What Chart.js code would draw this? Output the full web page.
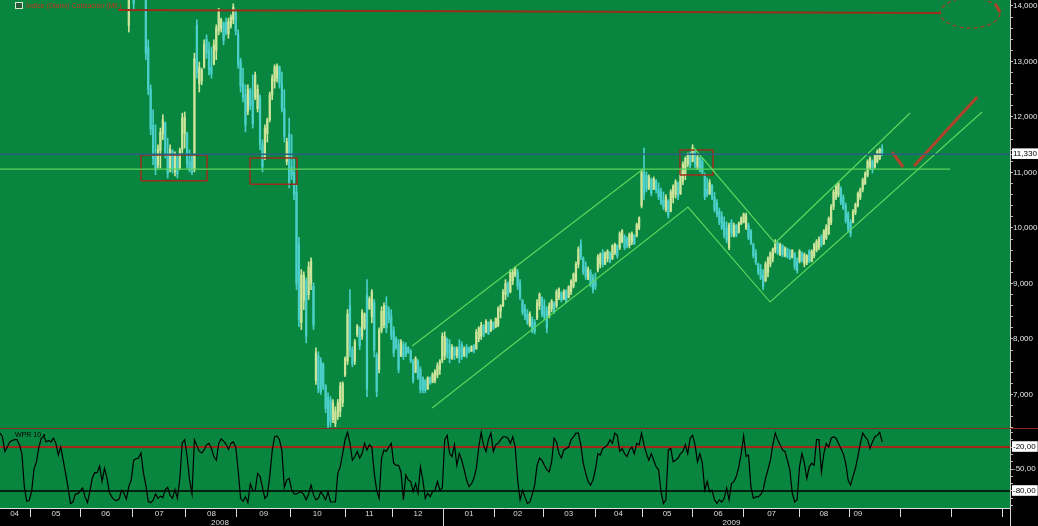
<!DOCTYPE html>
<html>
<head>
<meta charset="utf-8">
<title>Índice diario con WPR 10</title>
<script src="https://cdn.jsdelivr.net/npm/chart.js"></script>
<style>
    body {
        margin: 0;
        background: #000;
    }
    #wrap {
        position: relative;
        width: 1038px;
        height: 526px;
        background: #000;
        overflow: hidden;
        font-family: "Liberation Sans", Arial, sans-serif;
    }
    #pricePane {
        position: absolute;
        left: 0;
        top: 0;
        width: 1038px;
        height: 428px;
    }
    #paneSep {
        position: absolute;
        left: 0;
        top: 428px;
        width: 1038px;
        height: 1px;
        background: #8c2a1a;
    }
    #wprPane {
        position: absolute;
        left: 0;
        top: 429px;
        width: 1038px;
        height: 97px;
    }
    .tag {
        position: absolute;
        font-size: 7px;
        line-height: 8px;
        white-space: nowrap;
    }
    #priceTag {
        left: 15px;
        top: 2px;
        color: #c0381e;
    }
    #priceTag span {
        display: inline-block;
        width: 6px;
        height: 5px;
        border: 1px solid #d8e8d0;
        background: #2a5a3a;
        margin-right: 3px;
        vertical-align: -1px;
    }
    #wprTag {
        left: 15px;
        top: 431px;
        color: #000;
    }
</style>
</head>
<body>
<div id="wrap">
    <div id="pricePane"><canvas id="priceChart"></canvas></div>
    <div id="paneSep"></div>
    <div id="wprPane"><canvas id="wprChart"></canvas></div>
    <div class="tag" id="priceTag"><span></span>Índice (Diario) Cotización (Mil.)</div>
    <div class="tag" id="wprTag">WPR 10 •</div>
</div>

<script>
    // bar index = trading day counted from early April 2008
    const X_MAX = 415.6;
    const priceStart = 53;

    const opens = [
        13650, 14150, 14300, 14150, 14400, 14300, 14400, 14150, 13250, 12500,
        11850, 11300, 11130, 11400, 11700, 11900, 11350, 11050, 11380, 11020,
        11280, 11080, 11420, 11700, 11700, 11200, 11300, 11050, 13650, 12600,
        12650, 12900, 13400, 13200, 12900, 12950, 13200, 13550, 13600, 13700,
        13700, 13500, 13650, 13750, 13900, 13500, 13000, 12600, 12400, 12100,
        12480, 12300, 12350, 12150, 12350, 11500, 11300, 11700, 11950, 12400,
        12650, 12700, 12900, 12600, 12150, 11200, 11700, 11100, 11000, 10650,
        9700, 8300, 8700, 9050, 8800, 9000, 8950, 7250, 7700, 7600,
        7550, 7150, 6950, 6900, 6550, 6480, 6600, 6700, 6850, 7350,
        7600, 8600, 7800, 7600, 8080, 8200, 8050, 8200, 8800, 8550,
        8400, 8650, 7700, 7450, 8150, 8250, 8600, 8500, 8400, 8150,
        8000, 7900, 7700, 7900, 7850, 7850, 7780, 7600, 7400, 7600,
        7450, 7300, 7250, 7100, 7300, 7220, 7250, 7350, 7450, 7620,
        7700, 8000, 7900, 7650, 7850, 7700, 7850, 7900, 7700, 7850,
        7830, 7780, 7880, 7830, 8000, 8050, 8240, 8120, 8300, 8150,
        8300, 8220, 8250, 8500, 8600, 8800, 9000, 8850, 9050, 9150,
        9200, 9000, 8700, 8550, 8450, 8250, 8350, 8300, 8380, 8600,
        8750, 8600, 8500, 8400, 8550, 8650, 8600, 8750, 8830, 8720,
        8870, 8750, 8850, 8950, 9050, 9350, 9700, 9450, 9300, 9080,
        9200, 9100, 9050, 9250, 9350, 9550, 9350, 9450, 9550, 9450,
        9550, 9680, 9650, 9750, 9850, 9800, 9680, 9750, 9870, 9850,
        10000, 10400, 11000, 10950, 10720, 10880, 10700, 10850, 10700, 10650,
        10500, 10330, 10480, 10300, 10550, 10600, 10800, 10620, 10850, 10950,
        11150, 11330, 11200, 11400, 11100, 11250, 11200, 10950, 10700, 10620,
        10760, 10550, 10450, 10300, 10200, 10100, 10000, 9650, 10100, 9850,
        10050, 9920, 10080, 10100, 10000, 10050, 9950, 9700, 9550, 9350,
        9250, 9150, 9050, 9200, 9350, 9450, 9600, 9730, 9520, 9680,
        9500, 9620, 9500, 9470, 9550, 9400, 9400, 9550, 9350, 9380,
        9580, 9400, 9500, 9600, 9650, 9850, 9720, 9820, 9900, 10100,
        10380, 10550, 10600, 10700, 10550, 10400, 10250, 10100, 10100, 10280,
        10400, 10550, 10700, 10800, 10950, 11100, 11200, 11100, 11200, 11250,
        11420
    ];
    const highs = [
        14200, 14400, 14320, 14420, 14480, 14450, 14420, 14250, 13390, 12580,
        12130, 11860, 11500, 11800, 12040, 11910, 11620, 11500, 11410, 11370,
        11320, 11440, 12070, 12090, 11730, 11410, 11320, 13150, 13750, 12990,
        12880, 13390, 13480, 13350, 13260, 13390, 13660, 13960, 13780, 13710,
        13780, 13780, 13840, 14040, 13930, 13570, 13060, 12880, 12580, 12580,
        12520, 12760, 12810, 12580, 12400, 11590, 11860, 11980, 12450, 12760,
        12940, 12960, 12920, 12810, 12490, 11620, 11980, 11680, 11260, 10780,
        9830, 9250, 9210, 9100, 9390, 9460, 9010, 7840, 7770, 7660,
        7570, 7180, 7030, 6960, 6910, 6780, 6910, 7220, 7230, 7680,
        8530, 8890, 7860, 7990, 8260, 8220, 8530, 8470, 9070, 8760,
        8890, 8710, 7750, 8200, 8580, 8650, 8760, 8580, 8530, 8220,
        8040, 7990, 7990, 7950, 7930, 7860, 7810, 7630, 7680, 7630,
        7500, 7320, 7270, 7320, 7320, 7390, 7450, 7570, 7630, 8110,
        8130, 8020, 7990, 7900, 7860, 7860, 7990, 7950, 7860, 7900,
        7860, 7880, 7900, 8170, 8220, 8300, 8260, 8350, 8310, 8350,
        8310, 8380, 8580, 8620, 8890, 9070, 9030, 9250, 9250, 9300,
        9250, 9070, 8710, 8620, 8530, 8490, 8400, 8350, 8710, 8830,
        8760, 8710, 8580, 8650, 8710, 8670, 8890, 8920, 8850, 8890,
        8890, 8960, 9070, 9190, 9390, 9660, 9790, 9480, 9390, 9300,
        9250, 9160, 9190, 9520, 9550, 9610, 9570, 9610, 9570, 9700,
        9730, 9700, 9930, 9970, 9880, 9840, 9910, 9930, 9880, 10090,
        10200, 11050, 11440, 11010, 10960, 10900, 10920, 10870, 10810, 10720,
        10650, 10600, 10510, 10690, 10780, 10870, 10830, 11050, 11190, 11280,
        11350, 11370, 11500, 11410, 11320, 11280, 11260, 10990, 10900, 10870,
        10780, 10640, 10510, 10360, 10290, 10200, 10110, 10090, 10150, 10090,
        10060, 10110, 10200, 10270, 10270, 10090, 9970, 9730, 9610, 9370,
        9340, 9250, 9390, 9480, 9570, 9640, 9790, 9750, 9730, 9700,
        9660, 9640, 9610, 9610, 9550, 9460, 9610, 9570, 9550, 9520,
        9610, 9610, 9730, 9790, 9840, 9880, 9970, 10060, 10200, 10420,
        10690, 10780, 10830, 10740, 10600, 10450, 10290, 10150, 10330, 10450,
        10650, 10720, 10900, 11010, 11230, 11280, 11230, 11320, 11410, 11440,
        11500
    ];
    const lows = [
        13530, 14130, 13950, 14130, 14200, 14150, 14120, 13030, 12400, 11680,
        11140, 10960, 11080, 11080, 11590, 11260, 10900, 11010, 10990, 10940,
        10900, 11050, 11350, 11440, 11080, 11010, 10960, 11010, 12700, 12450,
        12580, 12880, 13060, 12760, 12700, 12940, 13030, 13480, 13530, 13300,
        13480, 13420, 13600, 13680, 13480, 12880, 12450, 12270, 11730, 12040,
        12130, 11800, 12310, 12090, 11410, 11010, 11230, 11550, 11910, 12310,
        12520, 12630, 12520, 12090, 11550, 11140, 10720, 10870, 10510, 8890,
        8220, 8170, 8530, 7930, 8710, 8890, 8170, 7180, 7030, 7000,
        7090, 6670, 6370, 6420, 6490, 6420, 6550, 6600, 6780, 7320,
        7540, 7680, 7500, 7540, 8040, 7810, 7990, 8170, 6960, 8530,
        8290, 7680, 6960, 7390, 8110, 8200, 8110, 8290, 7990, 7680,
        7810, 7390, 7680, 7630, 7680, 7740, 7570, 7210, 7390, 7270,
        7030, 7030, 7030, 7090, 7180, 7210, 7210, 7300, 7360, 7570,
        7630, 7660, 7570, 7630, 7630, 7660, 7570, 7630, 7680, 7660,
        7750, 7770, 7750, 7810, 7950, 7990, 8040, 8110, 8080, 8130,
        8170, 8200, 8220, 8380, 8580, 8710, 8760, 8830, 8980, 9120,
        8890, 8710, 8440, 8350, 8260, 8220, 8110, 8090, 8350, 8530,
        8400, 8350, 8110, 8380, 8490, 8460, 8560, 8710, 8670, 8710,
        8650, 8740, 8800, 8920, 9030, 9280, 9430, 9160, 9070, 9070,
        8940, 8830, 8890, 9210, 9280, 9300, 9340, 9390, 9370, 9430,
        9520, 9460, 9610, 9730, 9610, 9640, 9640, 9700, 9700, 9840,
        9970, 10360, 10510, 10650, 10690, 10580, 10690, 10630, 10510, 10420,
        10330, 10290, 10180, 10290, 10450, 10540, 10510, 10600, 10780, 10870,
        11100, 11080, 11190, 11080, 11050, 11010, 10960, 10510, 10560, 10600,
        10510, 10290, 10200, 10060, 9970, 9820, 9730, 9610, 9840, 9840,
        9840, 9910, 10060, 10090, 9970, 9790, 9700, 9460, 9340, 9160,
        9070, 8890, 9030, 9120, 9300, 9390, 9550, 9520, 9500, 9480,
        9480, 9460, 9430, 9460, 9250, 9190, 9370, 9390, 9300, 9340,
        9370, 9390, 9460, 9570, 9610, 9660, 9700, 9790, 9880, 10060,
        10330, 10510, 10560, 10420, 10330, 10090, 9930, 9840, 10090, 10240,
        10380, 10510, 10650, 10780, 10920, 11050, 10990, 11080, 11170, 11230,
        11300
    ];
    const closes = [
        14100, 14350, 14050, 14380, 14250, 14400, 14180, 13150, 12500, 11780,
        11250, 11050, 11420, 11720, 11950, 11350, 10980, 11420, 11060, 11300,
        10980, 11400, 11980, 12000, 11150, 11050, 11000, 13050, 12800, 12900,
        12850, 13300, 13150, 12850, 12780, 13300, 13600, 13900, 13750, 13380,
        13520, 13720, 13800, 13980, 13550, 12950, 12550, 12350, 11850, 12500,
        12200, 11880, 12750, 12500, 11500, 11100, 11800, 11950, 12400, 12700,
        12900, 12920, 12600, 12150, 11650, 11550, 10800, 10950, 10600, 9000,
        8350, 9150, 9150, 8050, 9300, 9400, 8250, 7750, 7100, 7050,
        7150, 6750, 6450, 6500, 6850, 6700, 6850, 7150, 7200, 7650,
        8450, 7800, 7550, 7950, 8230, 7880, 8480, 8450, 7100, 8720,
        8850, 7800, 7050, 8150, 8500, 8600, 8200, 8350, 8050, 7750,
        7850, 7450, 7950, 7680, 7720, 7760, 7600, 7250, 7650, 7300,
        7080, 7080, 7070, 7300, 7200, 7370, 7420, 7520, 7600, 8050,
        8050, 7750, 7650, 7850, 7700, 7820, 7650, 7680, 7830, 7700,
        7770, 7860, 7780, 8120, 8200, 8250, 8080, 8320, 8100, 8330,
        8180, 8370, 8550, 8600, 8850, 9000, 8800, 9200, 9200, 9280,
        8950, 8750, 8480, 8400, 8300, 8450, 8150, 8130, 8650, 8800,
        8450, 8400, 8200, 8600, 8680, 8480, 8850, 8900, 8700, 8860,
        8680, 8940, 9050, 9170, 9350, 9620, 9480, 9200, 9120, 9250,
        8990, 8900, 8950, 9480, 9520, 9350, 9550, 9580, 9400, 9680,
        9700, 9500, 9900, 9950, 9650, 9680, 9880, 9900, 9720, 10060,
        10180, 11000, 10600, 10700, 10920, 10620, 10880, 10680, 10560, 10450,
        10380, 10560, 10230, 10650, 10750, 10830, 10560, 11000, 11150, 11250,
        11320, 11120, 11450, 11150, 11280, 11050, 11000, 10560, 10600, 10820,
        10550, 10330, 10250, 10100, 10000, 9870, 9780, 10050, 9900, 10050,
        9870, 10080, 10180, 10250, 10220, 9830, 9730, 9500, 9380, 9200,
        9100, 8940, 9350, 9450, 9550, 9620, 9750, 9550, 9700, 9520,
        9640, 9480, 9450, 9600, 9300, 9230, 9580, 9420, 9520, 9500,
        9400, 9580, 9700, 9760, 9800, 9700, 9950, 10020, 10170, 10380,
        10650, 10750, 10800, 10470, 10360, 10130, 9980, 9900, 10300, 10420,
        10620, 10700, 10870, 10980, 11200, 11250, 11050, 11300, 11380, 11420,
        11330
    ];

    // Williams %R (10), one value per trading day from bar 0
    const wpr = [
        -1, -6, -26, -20, -13, -11, -10, -10, -17, -29,
        -74, -94, -93, -81, -50, -40, -20, -8, -5, -13,
        -11, -13, -8, -15, -31, -20, -38, -56, -75, -97,
        -95, -84, -84, -80, -76, -88, -96, -80, -62, -55,
        -55, -46, -67, -49, -62, -82, -88, -92, -93, -91,
        -79, -83, -91, -74, -65, -38, -36, -35, -28, -55,
        -72, -94, -96, -93, -84, -90, -87, -89, -78, -75,
        -86, -90, -78, -90, -63, -14, -10, -33, -65, -84,
        -10, -18, -26, -28, -24, -17, -15, -22, -33, -38,
        -15, -9, -12, -16, -23, -15, -13, -20, -52, -90,
        -94, -88, -96, -70, -79, -80, -56, -60, -75, -90,
        -86, -60, -25, -6, -5, -10, -25, -75, -65, -63,
        -78, -84, -84, -82, -81, -85, -92, -84, -72, -85,
        -92, -90, -81, -86, -92, -81, -95, -95, -95, -56,
        -47, -29, -10, 0, -15, -38, -33, -26, -35, -29,
        -15, -24, -17, -20, -56, -79, -90, -35, -24, -26,
        -20, -15, -42, -45, -45, -54, -92, -58, -65, -67,
        -81, -70, -83, -47, -65, -90, -83, -88, -81, -79,
        -67, -79, -76, -10, -4, -29, -33, -17, -45, -29,
        -38, -51, -65, -74, -70, -63, -49, -20, 0, -18,
        -26, -10, -1, -26, -17, -15, -10, -6, -6, -8,
        -15, -6, -20, -65, -92, -79, -88, -97, -95, -85,
        -72, -45, -35, -38, -45, -51, -54, -40, -8, -13,
        -29, -35, -24, -22, -20, -10, -6, -1, -1, -17,
        -42, -56, -67, -72, -65, -51, -29, -31, -22, -20,
        -17, -10, -15, -1, -4, -26, -22, -29, -33, -24,
        -20, -29, -15, -17, -1, -17, -29, -38, -29, -38,
        -47, -51, -81, -97, -92, -24, -22, -40, -38, -35,
        -29, -26, -17, -29, -8, -4, -17, -40, -29, -42,
        -79, -67, -81, -79, -92, -97, -92, -95, -90, -76,
        -92, -70, -67, -60, -47, -29, -5, -33, -31, -74,
        -90, -88, -88, -85, -79, -63, -51, -38, -17, -1,
        -10, -17, -24, -26, -38, -51, -83, -95, -92, -47,
        -29, -42, -63, -47, -42, -45, -10, -10, -54, -29,
        -15, -20, -8, -6, -8, -15, -22, -29, -42, -65,
        -72, -60, -49, -33, -15, -1, -6, -10, -22, -13,
        -6, -4, 0, -13
    ];

    // axis labels
    const monthLabels = ['04', '05', '06', '07', '08', '09', '10', '11', '12',
                         '01', '02', '03', '04', '05', '06', '07', '08', '09'];
    const monthLabelAt = [6, 23, 43.5, 65.5, 87, 108.5, 130.5, 152, 172,
                          193, 213, 234, 254.5, 274.5, 295.5, 317.5, 339, 353];
    const monthBounds = [12.5, 33, 54.5, 76.5, 97.5, 119.5, 142, 161.5, 182.5, 203.5,
                         223.5, 245, 264.5, 285, 306, 329, 349.5, 370.5, 391.5, 412.5];
    const yearLabels = ['2008', '2009'];
    const yearLabelAt = [90.5, 301];
    const yearBounds = [182.5];

    const lastPrice = 11330;
    const supportLevel = 11060;
    const wprLevels = [-20, -50, -80];

    // drawn studies (bar index, price)
    const topLine = [[48.6, 13930], [386.8, 13875]];
    const boxes = [[58, 85.2, 10850, 11315], [102.9, 122.2, 10790, 11260], [279.8, 293.4, 10955, 11405]];
    const channelUp = [[169.5, 7870], [264.6, 11063]];
    const channelLow = [[177.8, 6756], [283.1, 10378], [316.9, 8666], [404.1, 12090]];
    const channelHigh = [[285.2, 11459], [318.9, 9729], [374.5, 12072]];
    const redStrokes = [
        [[367.1, 11369], [371.6, 11099]],
        [[376.1, 11117], [402.1, 12360]],
        [[409.5, 14040], [411.5, 13890]]
    ];
    const targetEllipse = { cx: 399.2, cy: 13874, rx: 12.3, ry: 270 };

    const GREEN = '#08853f';
    const UP = '#cce59a';
    const DOWN = '#4ccfca';
    const LINE_GREEN = '#5cd65c';
    const DARK_RED = '#9a2e1c';
    const FONT = { family: '"Liberation Sans", Arial, sans-serif', size: 8 };

    const areaFill = {
        id: 'areaFill',
        beforeDraw(chart) {
            const { ctx, chartArea: a } = chart;
            ctx.save();
            ctx.fillStyle = GREEN;
            ctx.fillRect(a.left, a.top, a.right - a.left, a.bottom - a.top);
            ctx.restore();
        }
    };

    // right-hand axes: fixed width, no extra room above/below the plot
    function fitRightAxis(s) {
        s.width = 28;
        s.paddingTop = 0;
        s.paddingBottom = 0;
    }

    function pts(list) {
        return list.map(p => ({ x: p[0], y: p[1] }));
    }

    function lineSet(points, color, width, dash) {
        return {
            type: 'line',
            data: points,
            borderColor: color,
            borderWidth: width,
            borderDash: dash || [],
            pointRadius: 0,
            pointHoverRadius: 0,
            fill: false,
            tension: 0,
            order: 0
        };
    }

    // ---------- price pane ----------
    const barX = opens.map((o, i) => priceStart + i);
    const barColors = opens.map((o, i) => closes[i] >= o ? UP : DOWN);

    const priceSets = [
        {
            type: 'bar',
            data: barX.map((x, i) => ({ x: x, y: [lows[i], highs[i]] })),
            backgroundColor: barColors,
            barThickness: 1,
            grouped: false,
            order: 6
        },
        {
            type: 'bar',
            data: barX.map((x, i) => ({ x: x, y: [Math.min(opens[i], closes[i]), Math.max(opens[i], closes[i])] })),
            backgroundColor: barColors,
            barThickness: 1.6,
            grouped: false,
            order: 5
        },
        lineSet(pts([[0, lastPrice], [X_MAX, lastPrice]]), '#2b5f80', 1.5),
        lineSet(pts([[0, supportLevel], [391, supportLevel]]), LINE_GREEN, 1.2),
        lineSet(pts(topLine), DARK_RED, 2),
        lineSet(pts(channelUp), LINE_GREEN, 1.2),
        lineSet(pts(channelLow), LINE_GREEN, 1.2),
        lineSet(pts(channelHigh), LINE_GREEN, 1.2)
    ];
    boxes.forEach(b => {
        priceSets.push(lineSet(pts([[b[0], b[2]], [b[1], b[2]], [b[1], b[3]], [b[0], b[3]], [b[0], b[2]]]), DARK_RED, 1.5));
    });
    redStrokes.forEach(s => priceSets.push(lineSet(pts(s), '#b0432a', 3)));
    const ell = [];
    for (let k = 0; k <= 60; k++) {
        const t = k / 60 * Math.PI * 2;
        ell.push({ x: targetEllipse.cx + targetEllipse.rx * Math.cos(t), y: targetEllipse.cy + targetEllipse.ry * Math.sin(t) });
    }
    priceSets.push(lineSet(ell, '#a83a24', 1.2, [4, 3]));

    const priceTickValues = [6396, 14108, lastPrice];
    for (let v = 6400; v <= 14000; v += 200) priceTickValues.push(v);
    priceTickValues.sort((a, b) => a - b);

    new Chart(document.getElementById('priceChart'), {
        type: 'bar',
        data: { datasets: priceSets },
        options: {
            responsive: true,
            maintainAspectRatio: false,
            animation: false,
            events: [],
            layout: { padding: 0, autoPadding: false },
            plugins: { legend: { display: false }, tooltip: { enabled: false } },
            scales: {
                x: {
                    type: 'linear',
                    min: 0,
                    max: X_MAX,
                    offset: false,
                    display: false
                },
                y: {
                    position: 'right',
                    min: 6396,
                    max: 14108,
                    afterBuildTicks: s => { s.ticks = priceTickValues.map(v => ({ value: v })); },
                    afterFit: fitRightAxis,
                    grid: { drawOnChartArea: false, drawTicks: true, tickLength: 3, color: '#b8b8b8' },
                    border: { display: true, color: '#cfcfcf' },
                    ticks: {
                        autoSkip: false,
                        padding: 0,
                        font: FONT,
                        color: c => c.tick && c.tick.value === lastPrice ? '#000' : '#e4e4e4',
                        showLabelBackdrop: c => !!(c.tick && c.tick.value === lastPrice),
                        backdropColor: '#fff',
                        backdropPadding: { top: 1, bottom: 0, left: 1, right: 2 },
                        callback: v => {
                            if (v === 6396 || v === 14108) return null;
                            if (v === lastPrice) return v.toLocaleString('en-US');
                            return v % 1000 === 0 ? v.toLocaleString('en-US') : '';
                        }
                    }
                }
            }
        },
        plugins: [areaFill]
    });

    // ---------- WPR pane ----------
    const monthTicks = [0, X_MAX].concat(monthBounds, monthLabelAt).sort((a, b) => a - b);
    const yearTicks = [0, X_MAX].concat(yearBounds, yearLabelAt).sort((a, b) => a - b);
    const wprTicks = [-103.2, 4.6];
    for (let v = -100; v <= 0; v += 10) wprTicks.push(v);
    wprTicks.sort((a, b) => a - b);

    new Chart(document.getElementById('wprChart'), {
        type: 'line',
        data: {
            datasets: [
                {
                    data: wpr.map((v, i) => ({ x: i, y: v })),
                    borderColor: '#000',
                    borderWidth: 1.2,
                    pointRadius: 0,
                    pointHoverRadius: 0,
                    tension: 0,
                    order: 0
                },
                lineSet(pts([[0, wprLevels[0]], [X_MAX, wprLevels[0]]]), '#a3261a', 2),
                lineSet(pts([[0, wprLevels[2]], [X_MAX, wprLevels[2]]]), '#000', 1.5)
            ]
        },
        options: {
            responsive: true,
            maintainAspectRatio: false,
            animation: false,
            events: [],
            layout: { padding: 0, autoPadding: false },
            plugins: { legend: { display: false }, tooltip: { enabled: false } },
            scales: {
                x: {
                    type: 'linear',
                    min: 0,
                    max: X_MAX,
                    offset: false,
                    position: 'bottom',
                    weight: 0,
                    afterBuildTicks: s => { s.ticks = monthTicks.map(v => ({ value: v })); },
                    afterFit: s => { s.height = 9; },
                    grid: {
                        drawOnChartArea: false,
                        drawTicks: true,
                        tickLength: 9,
                        color: c => (c.tick && (monthBounds.includes(c.tick.value) || c.tick.value === X_MAX)) ? '#d8d8d8' : 'rgba(0,0,0,0)'
                    },
                    border: { display: true, color: '#e0e0e0', width: 1 },
                    ticks: {
                        autoSkip: false,
                        maxRotation: 0,
                        padding: -8,
                        font: FONT,
                        color: '#dcdcdc',
                        callback: v => {
                            const k = monthLabelAt.indexOf(v);
                            return k >= 0 ? monthLabels[k] : '';
                        }
                    }
                },
                x2: {
                    type: 'linear',
                    min: 0,
                    max: X_MAX,
                    offset: false,
                    position: 'bottom',
                    weight: 1,
                    afterBuildTicks: s => { s.ticks = yearTicks.map(v => ({ value: v })); },
                    afterFit: s => { s.height = 9; },
                    grid: {
                        drawOnChartArea: false,
                        drawTicks: true,
                        tickLength: 9,
                        color: c => (c.tick && (yearBounds.includes(c.tick.value) || c.tick.value === X_MAX)) ? '#d8d8d8' : 'rgba(0,0,0,0)'
                    },
                    border: { display: false },
                    ticks: {
                        autoSkip: false,
                        maxRotation: 0,
                        padding: -8,
                        font: FONT,
                        color: '#dcdcdc',
                        callback: v => {
                            const k = yearLabelAt.indexOf(v);
                            return k >= 0 ? yearLabels[k] : '';
                        }
                    }
                },
                y: {
                    position: 'right',
                    min: -103.2,
                    max: 4.6,
                    afterBuildTicks: s => { s.ticks = wprTicks.map(v => ({ value: v })); },
                    afterFit: fitRightAxis,
                    grid: { drawOnChartArea: false, drawTicks: true, tickLength: 3, color: '#b8b8b8' },
                    border: { display: true, color: '#cfcfcf' },
                    ticks: {
                        autoSkip: false,
                        padding: 0,
                        font: FONT,
                        color: c => (c.tick && (c.tick.value === -20 || c.tick.value === -80)) ? '#000' : '#e4e4e4',
                        showLabelBackdrop: c => !!(c.tick && (c.tick.value === -20 || c.tick.value === -80)),
                        backdropColor: '#fff',
                        backdropPadding: { top: 1, bottom: 0, left: 1, right: 2 },
                        callback: v => {
                            if (v === -103.2 || v === 4.6) return null;
                            return wprLevels.includes(v) ? v.toFixed(2).replace('.', ',') : '';
                        }
                    }
                }
            }
        },
        plugins: [areaFill]
    });
</script>
</body>
</html>
